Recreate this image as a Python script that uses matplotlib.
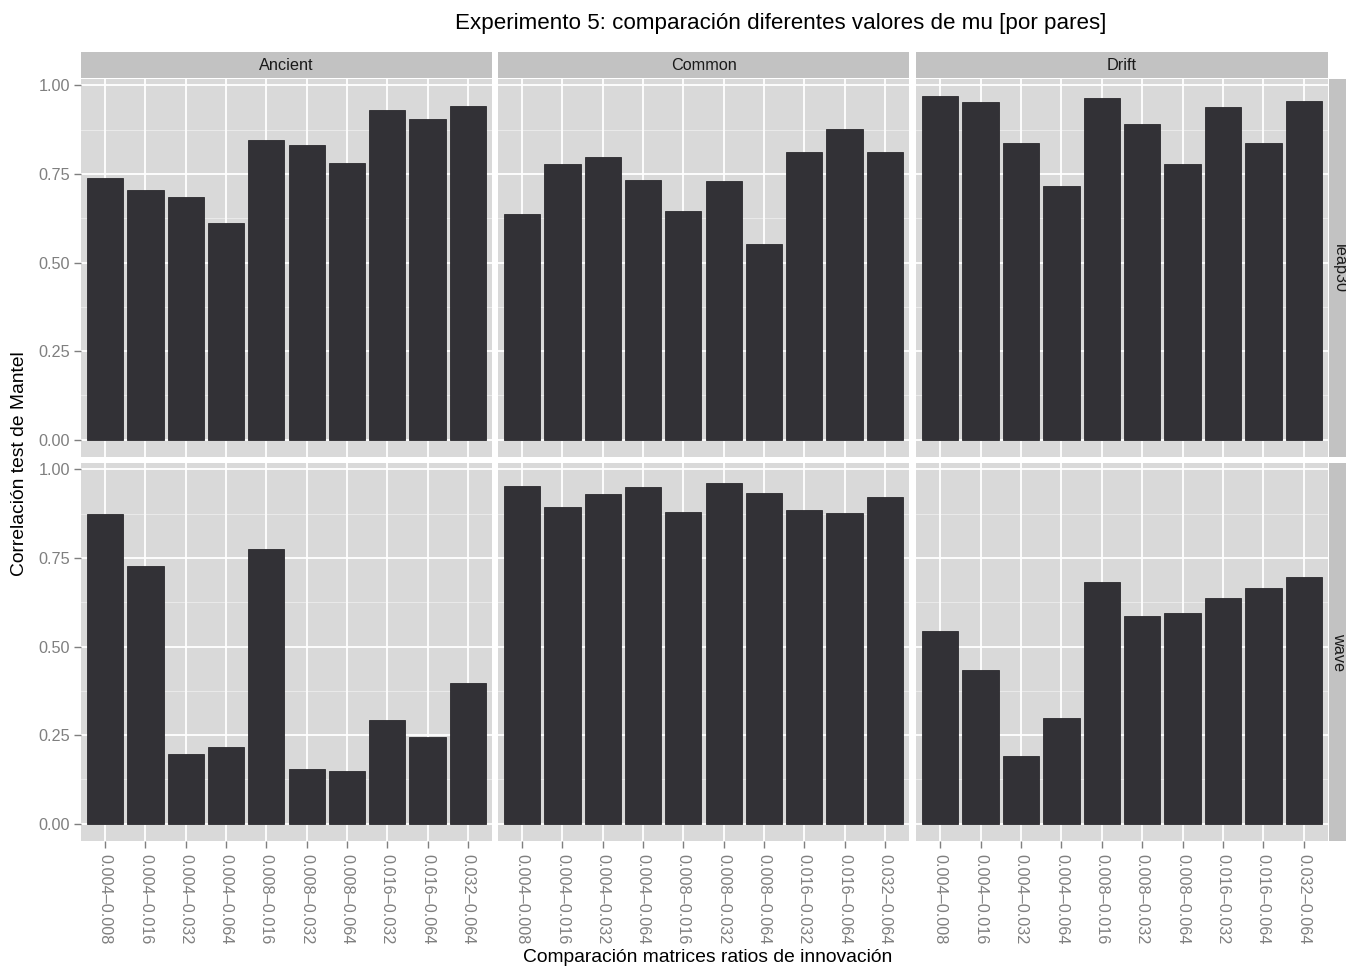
import matplotlib
matplotlib.use("Agg")
import matplotlib.pyplot as plt

plt.rcParams['font.family'] = ['Liberation Sans', 'DejaVu Sans']

categories = ["0.004\u20130.008", "0.004\u20130.016", "0.004\u20130.032", "0.004\u20130.064",
              "0.008\u20130.016", "0.008\u20130.032", "0.008\u20130.064", "0.016\u20130.032",
              "0.016\u20130.064", "0.032\u20130.064"]
col_facets = ["Ancient", "Common", "Drift"]
row_facets = ["leap30", "wave"]

ancient_leap30 = [0.739, 0.705, 0.685, 0.610, 0.846, 0.831, 0.781, 0.930, 0.904, 0.941]
common_leap30 = [0.638, 0.778, 0.798, 0.733, 0.646, 0.730, 0.551, 0.812, 0.876, 0.812]
drift_leap30 = [0.969, 0.952, 0.837, 0.716, 0.963, 0.890, 0.778, 0.938, 0.837, 0.955]
ancient_wave = [0.874, 0.728, 0.196, 0.218, 0.776, 0.154, 0.148, 0.294, 0.244, 0.398]
common_wave = [0.952, 0.894, 0.930, 0.950, 0.880, 0.961, 0.933, 0.885, 0.877, 0.922]
drift_wave = [0.543, 0.434, 0.190, 0.297, 0.683, 0.585, 0.594, 0.636, 0.664, 0.697]

data = {
    ("leap30", "Ancient"): ancient_leap30,
    ("leap30", "Common"): common_leap30,
    ("leap30", "Drift"): drift_leap30,
    ("wave", "Ancient"): ancient_wave,
    ("wave", "Common"): common_wave,
    ("wave", "Drift"): drift_wave,
}

title = "Experimento 5: comparación diferentes valores de mu [por pares]"
xlabel = "Comparación matrices ratios de innovación"
ylabel = "Correlación test de Mantel"
yticks = [0.0, 0.25, 0.5, 0.75, 1.0]
yticklabels = ["0.00", "0.25", "0.50", "0.75", "1.00"]

W, H = 1346, 969
fig = plt.figure(figsize=(W / 100, H / 100), dpi=100)
fig.patch.set_facecolor("white")

cols_px = [(81, 492), (498, 909), (916, 1328)]
rows_px = [(79, 457), (463, 841)]
strip_top = 52
strip_right = (1329, 1356)

PANEL = "#D9D9D9"
STRIP = "#C2C2C2"
BAR = "#323136"
GREY = "#7F7F7F"

ymax = max(max(v) for v in data.values())
pad = 0.05 * ymax
ylim = (-pad, ymax + pad)

def rect(x0, y0, x1, y1):
    return [x0 / W, 1 - y1 / H, (x1 - x0) / W, (y1 - y0) / H]

xpos = list(range(len(categories)))
for ri, rname in enumerate(row_facets):
    for ci, cname in enumerate(col_facets):
        (x0, x1), (y0, y1) = cols_px[ci], rows_px[ri]
        ax = fig.add_axes(rect(x0, y0, x1, y1))
        ax.set_facecolor(PANEL)
        ax.set_xlim(-0.6, len(categories) - 0.4)
        ax.set_ylim(*ylim)
        for m in [0.125, 0.375, 0.625, 0.875]:
            ax.axhline(m, color="#EDEDED", lw=0.6, zorder=0.5)
        for t in yticks:
            ax.axhline(t, color="white", lw=1.3, zorder=0.6)
        for xp in xpos:
            ax.axvline(xp, color="white", lw=1.3, zorder=0.6)
        ax.bar(xpos, data[(rname, cname)], width=0.9, color=BAR,
               edgecolor="#2A292D", linewidth=0.6, zorder=2)
        for s in ax.spines.values():
            s.set_visible(False)
        ax.set_yticks(yticks)
        ax.set_xticks(xpos)
        ax.tick_params(axis="both", colors=GREY, length=5, width=1.0,
                       labelsize=11.7, labelcolor=GREY, pad=3)
        if ci == 0:
            ax.set_yticklabels(yticklabels)
        else:
            ax.tick_params(axis="y", left=False, labelleft=False)
        if ri == len(row_facets) - 1:
            ax.set_xticklabels(categories, rotation=270, ha="center", va="top")
            ax.tick_params(axis="x", pad=4)
        else:
            ax.tick_params(axis="x", bottom=False, labelbottom=False)

# top strips
for ci, cname in enumerate(col_facets):
    x0, x1 = cols_px[ci]
    sax = fig.add_axes(rect(x0, strip_top, x1, rows_px[0][0] - 1))
    sax.set_facecolor(STRIP)
    sax.set_xticks([]); sax.set_yticks([])
    for s in sax.spines.values():
        s.set_visible(False)
    sax.text(0.5, 0.5, cname, ha="center", va="center", fontsize=11.7,
             color="#1A1A1A", transform=sax.transAxes)

# right strips
for ri, rname in enumerate(row_facets):
    y0, y1 = rows_px[ri]
    sax = fig.add_axes(rect(strip_right[0], y0, strip_right[1], y1))
    sax.set_facecolor(STRIP)
    sax.set_xticks([]); sax.set_yticks([])
    for s in sax.spines.values():
        s.set_visible(False)
    fig.text(1339 / W, 1 - ((y0 + y1) / 2) / H, rname, rotation=270,
             ha="center", va="center", fontsize=11.7, color="#1A1A1A")

fig.text(781 / W, 1 - 24 / H, title, ha="center", va="center", fontsize=16.1, color="black")
fig.text(708 / W, 1 - 958 / H, xlabel, ha="center", va="center", fontsize=13.9, color="black")
fig.text(19.5 / W, 1 - 464 / H, ylabel, ha="center", va="center", rotation=90,
         fontsize=13.9, color="black")

fig.savefig("out.png", dpi=100, facecolor="white")
